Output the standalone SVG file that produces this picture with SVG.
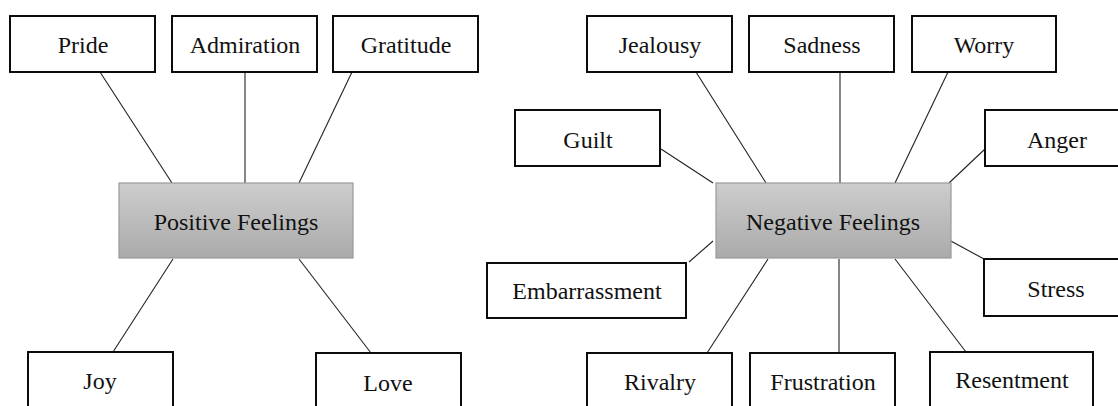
<svg xmlns="http://www.w3.org/2000/svg" width="1118" height="406" viewBox="0 0 1118 406">
<style>
.box{fill:#fff;stroke:#000;stroke-width:1.9}
.hub{stroke:#9a9a9a;stroke-width:1.2}
.lbl{font-family:"Liberation Serif","Times New Roman",serif;font-size:24px;fill:#111;text-anchor:middle}
.conn line{stroke:#222;stroke-width:1.1}
</style>
<defs>
<linearGradient id="g" x1="0" y1="0" x2="0" y2="1">
<stop offset="0" stop-color="#cdcdcd"/>
<stop offset="1" stop-color="#aaaaaa"/>
</linearGradient>
</defs>
<rect width="1118" height="406" fill="#fff"/>
<g class="conn" id="connectors">
<line x1="100" y1="72" x2="172" y2="183"/>
<line x1="245" y1="72" x2="245" y2="183"/>
<line x1="352" y1="72" x2="299" y2="183"/>
<line x1="173" y1="259" x2="113" y2="352"/>
<line x1="299" y1="259" x2="371" y2="353"/>
<line x1="661" y1="149" x2="713" y2="183"/>
<line x1="696" y1="72" x2="766" y2="183"/>
<line x1="840" y1="72" x2="840" y2="183"/>
<line x1="948" y1="72" x2="895" y2="183"/>
<line x1="985" y1="149" x2="949" y2="183"/>
<line x1="689" y1="262" x2="713" y2="241"/>
<line x1="949" y1="240" x2="984" y2="259"/>
<line x1="768" y1="259" x2="707" y2="353"/>
<line x1="839" y1="259" x2="839" y2="353"/>
<line x1="895" y1="259" x2="966" y2="352"/>
</g>
<g id="positive">
<rect class="hub" x="119" y="183" width="234" height="75" fill="url(#g)"/>
<text class="lbl" x="236" y="230">Positive Feelings</text>
</g>
<g id="pride"><rect class="box" x="10" y="16" width="145" height="56"/><text class="lbl" x="83" y="53">Pride</text></g>
<g id="admiration"><rect class="box" x="172" y="16" width="145" height="56"/><text class="lbl" x="245" y="53">Admiration</text></g>
<g id="gratitude"><rect class="box" x="333" y="16" width="145" height="56"/><text class="lbl" x="406" y="53">Gratitude</text></g>
<g id="joy"><rect class="box" x="28" y="352" width="145" height="70"/><text class="lbl" x="100" y="389">Joy</text></g>
<g id="love"><rect class="box" x="316" y="353" width="145" height="70"/><text class="lbl" x="388" y="391">Love</text></g>
<g id="negative">
<rect class="hub" x="716" y="183" width="235" height="75" fill="url(#g)"/>
<text class="lbl" x="833" y="230">Negative Feelings</text>
</g>
<g id="jealousy"><rect class="box" x="587" y="16" width="145" height="56"/><text class="lbl" x="660" y="53">Jealousy</text></g>
<g id="sadness"><rect class="box" x="749" y="16" width="145" height="56"/><text class="lbl" x="822" y="53">Sadness</text></g>
<g id="worry"><rect class="box" x="912" y="16" width="144" height="56"/><text class="lbl" x="984" y="53">Worry</text></g>
<g id="guilt"><rect class="box" x="515" y="110" width="145" height="56"/><text class="lbl" x="588" y="148">Guilt</text></g>
<g id="anger"><rect class="box" x="985" y="110" width="145" height="56"/><text class="lbl" x="1057" y="148">Anger</text></g>
<g id="embarrassment"><rect class="box" x="487" y="263" width="199" height="55"/><text class="lbl" x="587" y="299">Embarrassment</text></g>
<g id="stress"><rect class="box" x="984" y="259" width="145" height="57"/><text class="lbl" x="1056" y="297">Stress</text></g>
<g id="rivalry"><rect class="box" x="587" y="353" width="145" height="70"/><text class="lbl" x="660" y="390">Rivalry</text></g>
<g id="frustration"><rect class="box" x="750" y="353" width="145" height="70"/><text class="lbl" x="823" y="390">Frustration</text></g>
<g id="resentment"><rect class="box" x="930" y="352" width="163" height="70"/><text class="lbl" x="1012" y="388">Resentment</text></g>
</svg>
